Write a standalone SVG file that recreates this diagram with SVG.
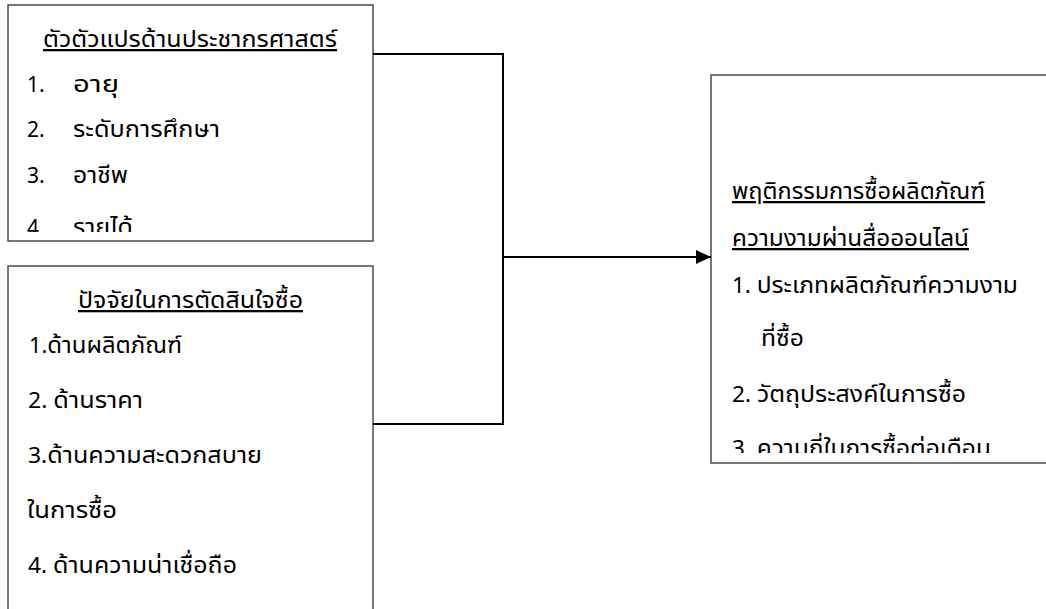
<svg xmlns="http://www.w3.org/2000/svg" width="1046" height="609" viewBox="0 0 1046 609">
  <style>
    .box { fill: #ffffff; stroke: #404040; stroke-width: 1.4; }
    .t { font-family: "Noto Sans Thai", "Noto Sans", "DejaVu Sans", sans-serif; font-size: 23px; fill: #000000; }
    .n { font-size: 21px; }
    .u { text-decoration: underline; }
    .c { stroke: #000000; stroke-width: 2; fill: none; }
  </style>
  <defs>
    <clipPath id="clip1"><rect x="8" y="5" width="365" height="227"/></clipPath>
    <clipPath id="clip3"><rect x="711" y="75" width="335" height="378"/></clipPath>
    <marker id="arrow" viewBox="0 0 15 14" refX="15" refY="7" markerWidth="15" markerHeight="14" markerUnits="userSpaceOnUse" orient="auto">
      <path d="M0,0 L15,7 L0,14 Z" fill="#000000"/>
    </marker>
  </defs>

  <g id="demographics">
    <rect class="box" x="8" y="5" width="365" height="236"/>
    <g clip-path="url(#clip1)">
      <text class="t u" x="43" y="47" textLength="294" lengthAdjust="spacingAndGlyphs">ตัวตัวแปรด้านประชากรศาสตร์</text>
      <text class="t n" x="27" y="92">1.</text>
      <text class="t" x="73" y="92" textLength="46" lengthAdjust="spacingAndGlyphs">อายุ</text>
      <text class="t n" x="27" y="137">2.</text>
      <text class="t" x="73" y="137" textLength="147" lengthAdjust="spacingAndGlyphs">ระดับการศึกษา</text>
      <text class="t n" x="27" y="183">3.</text>
      <text class="t" x="73" y="183" textLength="55" lengthAdjust="spacingAndGlyphs">อาชีพ</text>
      <text class="t n" x="27" y="235">4.</text>
      <text class="t" x="73" y="235" textLength="60" lengthAdjust="spacingAndGlyphs">รายได้</text>
    </g>
  </g>

  <g id="decision-factors">
    <rect class="box" x="8" y="266" width="365" height="360"/>
    <text class="t u" x="78" y="308" textLength="225" lengthAdjust="spacingAndGlyphs">ปัจจัยในการตัดสินใจซื้อ</text>
    <text class="t" x="29" y="353" textLength="153" lengthAdjust="spacingAndGlyphs"><tspan class="n">1.</tspan>ด้านผลิตภัณฑ์</text>
    <text class="t" x="28" y="408" textLength="115" lengthAdjust="spacingAndGlyphs"><tspan class="n">2. </tspan>ด้านราคา</text>
    <text class="t" x="28" y="463" textLength="234" lengthAdjust="spacingAndGlyphs"><tspan class="n">3.</tspan>ด้านความสะดวกสบาย</text>
    <text class="t" x="27" y="518" textLength="90" lengthAdjust="spacingAndGlyphs">ในการซื้อ</text>
    <text class="t" x="28" y="573" textLength="209" lengthAdjust="spacingAndGlyphs"><tspan class="n">4. </tspan>ด้านความน่าเชื่อถือ</text>
  </g>

  <g id="purchase-behavior">
    <rect class="box" x="711" y="75" width="345" height="388"/>
    <g clip-path="url(#clip3)">
      <text class="t u" x="732" y="199" textLength="253" lengthAdjust="spacingAndGlyphs">พฤติกรรมการซื้อผลิตภัณฑ์</text>
      <text class="t u" x="732" y="246" textLength="237" lengthAdjust="spacingAndGlyphs">ความงามผ่านสื่อออนไลน์</text>
      <text class="t" x="732" y="293" textLength="286" lengthAdjust="spacingAndGlyphs"><tspan class="n">1. </tspan>ประเภทผลิตภัณฑ์ความงาม</text>
      <text class="t" x="761" y="346" textLength="43" lengthAdjust="spacingAndGlyphs">ที่ซื้อ</text>
      <text class="t" x="732" y="402" textLength="234" lengthAdjust="spacingAndGlyphs"><tspan class="n">2. </tspan>วัตถุประสงค์ในการซื้อ</text>
      <text class="t" x="732" y="456" textLength="259" lengthAdjust="spacingAndGlyphs"><tspan class="n">3. </tspan>ความถี่ในการซื้อต่อเดือน</text>
    </g>
  </g>

  <g id="connectors">
    <polyline class="c" points="373,54 503,54 503,424 373,424"/>
    <line class="c" x1="503" y1="53" x2="503" y2="54"/>
    <line class="c" x1="503" y1="257" x2="711" y2="257" marker-end="url(#arrow)"/>
  </g>
</svg>
